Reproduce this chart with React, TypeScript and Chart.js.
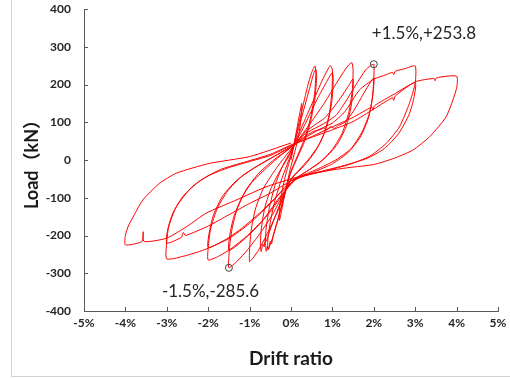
import React, { useEffect, useRef } from "react";
import { Chart, registerables } from "chart.js";

Chart.register(...registerables);

type P = [number, number];

// Axis ticks
const xTickValues = [-5, -4, -3, -2, -1, 0, 1, 2, 3, 4, 5];
const yTickValues = [-400, -300, -200, -100, 0, 100, 200, 300, 400];

// Hysteresis cycles: [drift ratio (%), load (kN)]
const cycle1: P[] = [[0,0],[0.08,45],[0.17,100],[0.24,140],[0.26,150],[0.25,120],[0.2,75],[0.1,25],[-0.02,-25],[-0.12,-75],[-0.22,-130],[-0.28,-160],[-0.28,-130],[-0.22,-85],[-0.12,-35],[0,10]];
const cycle2: P[] = [[0,10],[0.1,55],[0.25,125],[0.4,195],[0.5,232],[0.58,249],[0.6,228],[0.57,175],[0.48,115],[0.34,60],[0.16,12],[0,-30],[-0.12,-75],[-0.27,-140],[-0.41,-195],[-0.51,-226],[-0.56,-238],[-0.56,-212],[-0.5,-165],[-0.4,-112],[-0.25,-58],[-0.08,-8],[0.05,30]];
const cycle3: P[] = [[0.05,30],[0.15,70],[0.3,130],[0.45,190],[0.55,230],[0.6,240],[0.62,222],[0.58,165],[0.48,105],[0.33,50],[0.15,5],[-0.02,-38],[-0.15,-90],[-0.3,-150],[-0.43,-200],[-0.47,-222],[-0.5,-215],[-0.54,-236],[-0.57,-228],[-0.6,-242],[-0.62,-225],[-0.6,-180],[-0.52,-125],[-0.38,-65],[-0.2,-15],[0,25]];
const cycle4: P[] = [[0,25],[0.15,60],[0.35,110],[0.55,160],[0.75,210],[0.88,238],[0.95,250],[1.0,238],[0.99,185],[0.93,125],[0.8,70],[0.58,22],[0.32,-15],[0.05,-45],[-0.12,-80],[-0.32,-135],[-0.55,-190],[-0.78,-238],[-0.92,-260],[-1.0,-269],[-1.0,-235],[-0.96,-185],[-0.86,-130],[-0.68,-78],[-0.42,-32],[-0.15,8],[0.05,35]];
const cycle5: P[] = [[0.05,35],[0.25,75],[0.45,120],[0.65,165],[0.85,205],[1.0,232],[1.02,205],[0.98,150],[0.88,95],[0.7,45],[0.45,5],[0.18,-28],[0,-50],[-0.15,-85],[-0.35,-140],[-0.52,-190],[-0.6,-215],[-0.62,-208],[-0.65,-230],[-0.68,-222],[-0.72,-243],[-0.74,-228],[-0.72,-185],[-0.64,-130],[-0.5,-80],[-0.3,-35],[-0.08,5],[0.08,38]];
const cycle6: P[] = [[0.08,38],[0.3,72],[0.55,110],[0.8,150],[1.05,195],[1.25,230],[1.38,250],[1.47,258],[1.5,238],[1.48,185],[1.4,128],[1.24,72],[1.0,28],[0.68,-8],[0.35,-32],[0.05,-55],[-0.18,-90],[-0.45,-145],[-0.75,-195],[-1.05,-238],[-1.3,-268],[-1.5,-285.6],[-1.5,-255],[-1.48,-225],[-1.42,-180],[-1.3,-130],[-1.08,-78],[-0.78,-35],[-0.42,0],[-0.1,25],[0.1,42]];
const cycle7: P[] = [[0.1,42],[0.35,75],[0.6,95],[0.8,110],[1.0,135],[1.2,165],[1.4,198],[1.5,215],[1.5,190],[1.45,140],[1.33,88],[1.12,42],[0.82,5],[0.45,-25],[0.1,-50],[-0.15,-82],[-0.45,-130],[-0.8,-175],[-1.15,-212],[-1.5,-240],[-1.48,-200],[-1.38,-150],[-1.2,-102],[-0.95,-60],[-0.6,-22],[-0.25,12],[0.05,38]];
const cycle8: P[] = [[0.05,38],[0.35,70],[0.65,88],[0.85,100],[1.1,120],[1.35,160],[1.6,205],[1.8,238],[1.92,250],[2.0,253.8],[2.0,215],[1.96,160],[1.86,108],[1.67,60],[1.38,20],[1.0,-10],[0.55,-32],[0.12,-52],[-0.25,-95],[-0.65,-155],[-1.05,-200],[-1.45,-235],[-1.75,-255],[-2.0,-265],[-2.0,-232],[-1.94,-182],[-1.78,-128],[-1.53,-82],[-1.18,-42],[-0.75,-12],[-0.32,15],[0,35]];
const cycle9: P[] = [[0,35],[0.3,60],[0.55,76],[0.7,80],[0.8,85],[0.85,79],[0.95,88],[1.05,84],[1.15,92],[1.3,100],[1.5,128],[1.75,175],[2.0,218],[1.98,175],[1.9,125],[1.72,75],[1.45,30],[1.08,0],[0.62,-25],[0.15,-48],[-0.3,-92],[-0.75,-140],[-1.2,-182],[-1.6,-212],[-2.0,-232],[-1.98,-195],[-1.87,-145],[-1.65,-95],[-1.32,-55],[-0.88,-20],[-0.4,10],[0,35]];
const cycle10: P[] = [[0,35],[0.35,60],[0.7,82],[1.0,98],[1.3,128],[1.65,185],[2.0,214],[2.3,226],[2.45,232],[2.48,226],[2.52,235],[2.75,242],[3.0,249],[3.0,203],[2.86,150],[2.62,88],[2.3,44],[1.9,10],[1.4,-12],[0.9,-27],[0.4,-40],[0,-55],[-0.45,-110],[-1.0,-168],[-1.5,-208],[-2.05,-236],[-2.5,-252],[-3.0,-262],[-3.0,-215],[-2.95,-175],[-2.77,-124],[-2.4,-72],[-2.0,-42],[-1.5,-20],[-1.0,-4],[-0.5,12],[0,38]];
const cycle11: P[] = [[0,38],[0.5,62],[1.0,88],[1.5,113],[1.95,140],[1.98,132],[2.02,144],[2.5,175],[3.0,205],[2.97,165],[2.85,120],[2.6,70],[2.25,30],[1.85,5],[1.3,-14],[0.8,-28],[0.3,-42],[0,-55],[-0.5,-88],[-1.0,-115],[-1.5,-145],[-2.0,-175],[-2.55,-200],[-2.6,-192],[-2.65,-205],[-3.0,-220],[-2.98,-185],[-2.85,-140],[-2.6,-95],[-2.2,-55],[-1.7,-25],[-1.1,-5],[-0.5,15],[0,40]];
const cycle12: P[] = [[0,40],[0.5,60],[1.0,80],[1.5,102],[2.0,135],[2.45,165],[2.48,158],[2.52,170],[3.0,207],[3.45,216],[3.48,210],[3.52,218],[4.0,222],[4.0,190],[3.75,115],[3.35,62],[2.94,26],[2.5,5],[2.0,-12],[1.4,-20],[0.8,-30],[0.2,-44],[0,-50],[-0.6,-71],[-1.3,-105],[-2.05,-141],[-2.5,-175],[-3.0,-207],[-3.55,-216],[-3.57,-190],[-3.6,-216],[-4.0,-225],[-4.0,-200],[-3.93,-175],[-3.8,-148],[-3.58,-106],[-3.18,-62],[-2.77,-35],[-1.97,-9],[-1.0,9],[0,45]];

const cycles: P[][] = [cycle1, cycle2, cycle3, cycle4, cycle5, cycle6, cycle7, cycle8, cycle9, cycle10, cycle11, cycle12];

// Marked peaks and their labels
const markedPoints: P[] = [[2, 253.8], [-1.5, -285.6]];
const markedLabels = ["+1.5%,+253.8", "-1.5%,-285.6"];

const FONT = 'Lato, "Open Sans", "Noto Sans CJK SC", sans-serif';
const AXIS_COLOR = "#595959";

export default function App() {
  const ref = useRef<HTMLCanvasElement>(null);

  useEffect(() => {
    document.body.style.margin = "0";
    const canvas = ref.current;
    if (!canvas) return;

    const loopDatasets = cycles.map((c) => ({
      data: c.map(([x, y]) => ({ x, y })),
      showLine: true,
      borderColor: "#ff0000",
      backgroundColor: "#ff0000",
      borderWidth: 1,
      pointRadius: 0,
      tension: 0.2,
      fill: false,
      order: 2,
    }));

    const markerDataset = {
      data: markedPoints.map(([x, y]) => ({ x, y })),
      showLine: false,
      pointRadius: 3.5,
      pointStyle: "circle",
      borderColor: "#404040",
      backgroundColor: "rgba(0,0,0,0)",
      borderWidth: 1,
      order: 1,
    };

    const frame = {
      id: "frame",
      beforeDraw(chart: any) {
        const { ctx } = chart;
        ctx.save();
        ctx.fillStyle = "#ffffff";
        ctx.fillRect(0, 0, chart.width, chart.height);
        ctx.strokeStyle = "#d4d4d4";
        ctx.lineWidth = 1;
        ctx.beginPath();
        ctx.moveTo(11.5, 0);
        ctx.lineTo(11.5, 376.5);
        ctx.lineTo(chart.width, 376.5);
        ctx.stroke();
        ctx.restore();
      },
    };

    const inwardTicks = {
      id: "inwardTicks",
      afterDraw(chart: any) {
        const { ctx, chartArea, scales } = chart;
        ctx.save();
        ctx.strokeStyle = AXIS_COLOR;
        ctx.lineWidth = 1;
        ctx.beginPath();
        scales.x.ticks.forEach((t: any) => {
          const px = Math.round(scales.x.getPixelForValue(t.value)) + 0.5;
          ctx.moveTo(px, chartArea.bottom);
          ctx.lineTo(px, chartArea.bottom - 4);
        });
        scales.y.ticks.forEach((t: any) => {
          const py = Math.round(scales.y.getPixelForValue(t.value)) + 0.5;
          ctx.moveTo(chartArea.left, py);
          ctx.lineTo(chartArea.left + 4, py);
        });
        ctx.stroke();
        ctx.restore();
      },
    };

    const peakLabels = {
      id: "peakLabels",
      afterDatasetsDraw(chart: any) {
        const { ctx, scales } = chart;
        const offsets: P[] = [[-2, -31], [-67, 24]];
        ctx.save();
        ctx.fillStyle = "#262626";
        ctx.font = `17px ${FONT}`;
        ctx.textAlign = "left";
        ctx.textBaseline = "middle";
        markedPoints.forEach(([x, y], i) => {
          const px = scales.x.getPixelForValue(x);
          const py = scales.y.getPixelForValue(y);
          ctx.fillText(markedLabels[i], px + offsets[i][0], py + offsets[i][1]);
        });
        ctx.restore();
      },
    };

    const chart = new Chart(canvas, {
      type: "scatter",
      data: { datasets: [...loopDatasets, markerDataset] as any },
      options: {
        animation: false,
        responsive: false,
        maintainAspectRatio: false,
        events: [],
        layout: { padding: { top: 9, right: 12, left: 0, bottom: 0 } },
        plugins: { legend: { display: false }, tooltip: { enabled: false } },
        scales: {
          x: {
            type: "linear",
            min: -5,
            max: 5,
            afterBuildTicks: (scale: any) => {
              scale.ticks = xTickValues.map((v) => ({ value: v }));
            },
            afterFit: (scale: any) => {
              scale.height = 67;
              scale.paddingLeft = 0;
              scale.paddingRight = 0;
            },
            grid: { display: true, drawOnChartArea: false, drawTicks: false },
            border: { display: true, color: AXIS_COLOR, width: 1 },
            ticks: {
              padding: 5,
              color: "#262626",
              font: { family: FONT, size: 12, weight: "bold" },
              callback: (v: any) => `${v}%`,
            },
            title: {
              display: true,
              text: "Drift ratio",
              color: "#1a1a1a",
              font: { family: FONT, size: 19, weight: "bold" },
              padding: { top: 0, bottom: 8 },
            },
          },
          y: {
            type: "linear",
            min: -400,
            max: 400,
            afterBuildTicks: (scale: any) => {
              scale.ticks = yTickValues.map((v) => ({ value: v }));
            },
            afterFit: (scale: any) => {
              scale.width = 84;
              scale.paddingTop = 0;
              scale.paddingBottom = 0;
            },
            grid: { display: true, drawOnChartArea: false, drawTicks: false },
            border: { display: true, color: AXIS_COLOR, width: 1 },
            ticks: {
              padding: 13,
              color: "#262626",
              font: { family: FONT, size: 12, weight: "bold" },
            },
            title: {
              display: true,
              text: "Load（kN）",
              color: "#1a1a1a",
              font: { family: FONT, size: 18, weight: "bold" },
              padding: { top: 21, bottom: 0 },
            },
          },
        },
      } as any,
      plugins: [frame, inwardTicks, peakLabels],
    });

    return () => chart.destroy();
  }, []);

  return (
    <div style={{ position: "relative", width: 510, height: 378 }}>
      <canvas ref={ref} width={510} height={378} style={{ display: "block" }} />
    </div>
  );
}
